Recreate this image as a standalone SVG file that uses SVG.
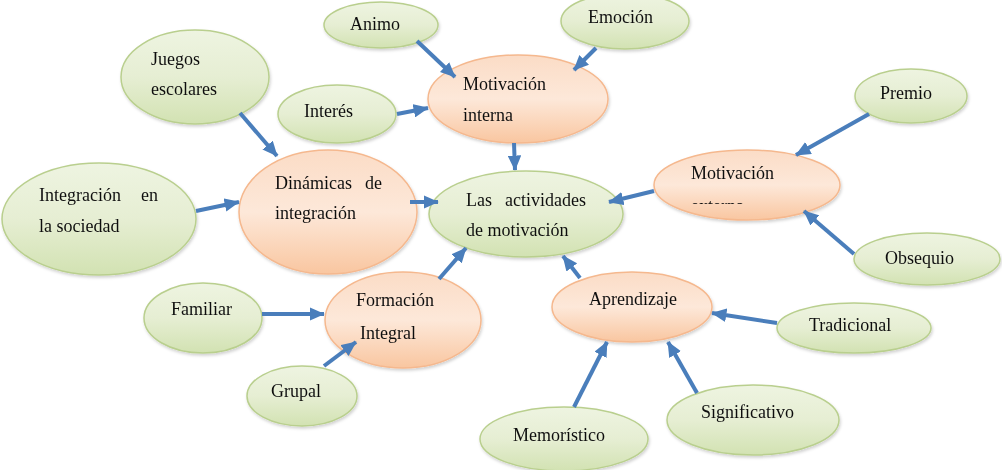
<svg xmlns="http://www.w3.org/2000/svg" width="1002" height="470" viewBox="0 0 1002 470">
<style>
.g{fill:url(#gg);stroke:#b9cf8e;stroke-width:1.5}
.o{fill:url(#og);stroke:#f5b88e;stroke-width:1.5}
text{font-family:"Liberation Serif","Times New Roman",serif;font-size:18px;fill:#111}
.c line{stroke:#4a7ebb;stroke-width:4;marker-end:url(#ah)}
</style>
<defs>
<linearGradient id="gg" x1="0" y1="0" x2="0" y2="1">
<stop offset="0" stop-color="#eef4e1"/><stop offset="0.5" stop-color="#e6eed3"/><stop offset="1" stop-color="#d2e2b2"/>
</linearGradient>
<linearGradient id="og" x1="0" y1="0" x2="0" y2="1">
<stop offset="0" stop-color="#fbdcc6"/><stop offset="0.5" stop-color="#fde8d9"/><stop offset="1" stop-color="#f9c6a0"/>
</linearGradient>
<filter id="sh" x="-10%" y="-10%" width="120%" height="130%">
<feDropShadow dx="1" dy="2" stdDeviation="1.5" flood-color="#000" flood-opacity="0.18"/>
</filter>
<marker id="ah" markerWidth="3.8" markerHeight="3.4" refX="3.6" refY="1.7" orient="auto">
<path d="M0,0 L3.8,1.7 L0,3.4 Z" fill="#4a7ebb"/>
</marker>
<clipPath id="clipExt"><rect x="650" y="150" width="200" height="54"/></clipPath>
</defs>

<g filter="url(#sh)">
<g id="animo"><ellipse class="g" cx="381" cy="25" rx="57" ry="23"/><text x="350" y="30">Animo</text></g>
<g id="emocion"><ellipse class="g" cx="625" cy="21" rx="64" ry="28"/><text x="588" y="23">Emoción</text></g>
<g id="juegos"><ellipse class="g" cx="195" cy="77" rx="74" ry="47"/><text x="151" y="65">Juegos</text><text x="151" y="95">escolares</text></g>
<g id="interes"><ellipse class="g" cx="337" cy="114" rx="59" ry="29"/><text x="304" y="117">Interés</text></g>
<g id="motivacion-interna"><ellipse class="o" cx="518" cy="99" rx="90" ry="44"/><text x="463" y="90">Motivación</text><text x="463" y="121">interna</text></g>
<g id="premio"><ellipse class="g" cx="911" cy="96" rx="56" ry="27"/><text x="880" y="99">Premio</text></g>
<g id="integracion"><ellipse class="g" cx="99" cy="219" rx="97" ry="56"/><text x="39" y="201">Integración</text><text x="141" y="201">en</text><text x="39" y="232">la sociedad</text></g>
<g id="dinamicas"><ellipse class="o" cx="328" cy="212" rx="89" ry="62"/><text x="275" y="189">Dinámicas</text><text x="365" y="189">de</text><text x="275" y="219">integración</text></g>
<g id="actividades"><ellipse class="g" cx="526" cy="214" rx="97" ry="43"/><text x="466" y="206">Las</text><text x="505" y="206">actividades</text><text x="466" y="236">de motivación</text></g>
<g id="motivacion-externa"><ellipse class="o" cx="747" cy="185" rx="93" ry="35"/><text x="691" y="179">Motivación</text><text x="691" y="211.5" clip-path="url(#clipExt)">externa</text></g>
<g id="obsequio"><ellipse class="g" cx="927" cy="259" rx="73" ry="26"/><text x="885" y="264">Obsequio</text></g>
<g id="aprendizaje"><ellipse class="o" cx="632" cy="307" rx="80" ry="35"/><text x="589" y="305">Aprendizaje</text></g>
<g id="tradicional"><ellipse class="g" cx="854" cy="328" rx="77" ry="25"/><text x="809" y="331">Tradicional</text></g>
<g id="significativo"><ellipse class="g" cx="753" cy="420" rx="86" ry="35"/><text x="701" y="418">Significativo</text></g>
<g id="memoristico"><ellipse class="g" cx="564" cy="439" rx="84" ry="32"/><text x="513" y="441">Memorístico</text></g>
<g id="familiar"><ellipse class="g" cx="203" cy="318" rx="59" ry="35"/><text x="171" y="315">Familiar</text></g>
<g id="formacion"><ellipse class="o" cx="403" cy="320" rx="78" ry="48"/><text x="356" y="306">Formación</text><text x="360" y="339">Integral</text></g>
<g id="grupal"><ellipse class="g" cx="302" cy="396" rx="55" ry="30"/><text x="271" y="397">Grupal</text></g>
</g>

<g id="connectors" class="c">
<line x1="417" y1="41" x2="455" y2="77"/>
<line x1="596" y1="48" x2="574" y2="70"/>
<line x1="397" y1="114" x2="428" y2="108"/>
<line x1="240" y1="113" x2="277" y2="156"/>
<line x1="514" y1="143" x2="515" y2="170"/>
<line x1="196" y1="211" x2="239" y2="202"/>
<line x1="410" y1="202" x2="438" y2="202"/>
<line x1="654" y1="191" x2="609" y2="202"/>
<line x1="869" y1="114" x2="796" y2="155"/>
<line x1="854" y1="254" x2="804" y2="211"/>
<line x1="439" y1="279" x2="466" y2="248"/>
<line x1="580" y1="278" x2="563" y2="256"/>
<line x1="262" y1="314" x2="324" y2="314"/>
<line x1="324" y1="366" x2="356" y2="342"/>
<line x1="777" y1="323" x2="712" y2="313"/>
<line x1="574" y1="407" x2="607" y2="342"/>
<line x1="697" y1="393" x2="668" y2="342"/>
</g>
</svg>
